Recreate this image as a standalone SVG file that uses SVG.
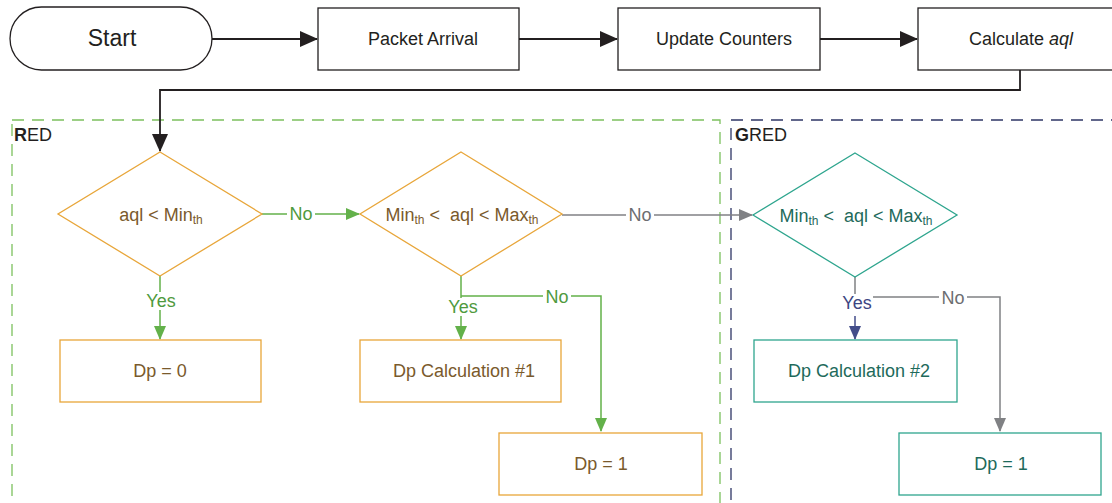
<svg xmlns="http://www.w3.org/2000/svg" width="1112" height="503" viewBox="0 0 1112 503">
<defs>
<style>
text{font-family:"Liberation Sans",Arial,sans-serif;text-anchor:middle;dominant-baseline:central}
.blk{fill:#fff;stroke:#231f20;stroke-width:1.3}
.red{fill:#fff;stroke:#e8a63a;stroke-width:1.3}
.gred{fill:#fff;stroke:#2ea58e;stroke-width:1.3}
.tb{fill:#231f20;font-size:18px}
.tr{fill:#7a5a2c;font-size:18px}
.tg{fill:#1e6a5b;font-size:18px}
.sub{font-size:12px}
.lg{fill:#4f9a3e;font-size:18px}
.lgr{fill:#6d6e71;font-size:18px}
.lnv{fill:#3d4682;font-size:18px}
.ck{fill:none;stroke:#231f20;stroke-width:1.8}
.cg{fill:none;stroke:#63b14a;stroke-width:1.5}
.cgr{fill:none;stroke:#808184;stroke-width:1.5}
.cnv{fill:none;stroke:#434d8a;stroke-width:1.5}
</style>
<marker id="ak" markerWidth="18" markerHeight="16" refX="17" refY="8" orient="auto" markerUnits="userSpaceOnUse" viewBox="0 0 18 16"><path d="M0,0L18,8L0,16z" fill="#231f20"/></marker>
<marker id="ag" markerWidth="14" markerHeight="14" refX="13" refY="7" orient="auto" markerUnits="userSpaceOnUse" viewBox="0 0 14 14"><path d="M0,1L14,7L0,13z" fill="#63b14a"/></marker>
<marker id="agr" markerWidth="14" markerHeight="14" refX="13" refY="7" orient="auto" markerUnits="userSpaceOnUse" viewBox="0 0 14 14"><path d="M0,1L14,7L0,13z" fill="#808184"/></marker>
<marker id="anv" markerWidth="14" markerHeight="14" refX="13" refY="7" orient="auto" markerUnits="userSpaceOnUse" viewBox="0 0 14 14"><path d="M0,1L14,7L0,13z" fill="#434d8a"/></marker>
</defs>
<rect width="1112" height="503" fill="#fff"/>

<g id="red-region">
<rect x="12" y="120" width="708" height="400" fill="none" stroke="#7cc05e" stroke-width="1.3" stroke-dasharray="12,8"/>
<text x="14" y="135" style="text-anchor:start;font-size:18px;fill:#231f20"><tspan font-weight="bold">R</tspan>ED</text>
</g>
<g id="gred-region">
<rect x="731" y="120" width="400" height="400" fill="none" stroke="#2e3666" stroke-width="1.3" stroke-dasharray="12,8"/>
<text x="735" y="135" style="text-anchor:start;font-size:18px;fill:#231f20"><tspan font-weight="bold">G</tspan>RED</text>
</g>

<g id="connectors">
<path class="ck" d="M212,39H317" marker-end="url(#ak)"/>
<path class="ck" d="M519,39H617" marker-end="url(#ak)"/>
<path class="ck" d="M820,39H917" marker-end="url(#ak)"/>
<path class="ck" d="M1020,70V90H160V151" marker-end="url(#ak)"/>
<path class="cg" d="M262,214H359" marker-end="url(#ag)"/>
<path class="cgr" d="M562,215H752" marker-end="url(#agr)"/>
<path class="cg" d="M160,276V339" marker-end="url(#ag)"/>
<path class="cg" d="M461,276V339"  marker-end="url(#ag)"/>
<path class="cg" d="M461,296H601V431" marker-end="url(#ag)"/>
<path class="cgr" d="M855,277V297H1000V431" marker-end="url(#agr)"/>
<path class="cnv" d="M855,316V339" marker-end="url(#anv)"/>
<rect x="287" y="205" width="28" height="18" fill="#fff"/>
<text class="lg" x="301" y="214">No</text>
<rect x="626" y="206" width="28" height="18" fill="#fff"/>
<text class="lgr" x="640" y="215">No</text>
<rect x="144" y="292" width="34" height="18" fill="#fff"/>
<text class="lg" x="161" y="301">Yes</text>
<rect x="446" y="298" width="34" height="18" fill="#fff"/>
<text class="lg" x="463" y="307">Yes</text>
<rect x="543" y="288" width="28" height="18" fill="#fff"/>
<text class="lg" x="557" y="297">No</text>
<rect x="839" y="294" width="34" height="18" fill="#fff"/>
<text class="lnv" x="857" y="303">Yes</text>
<rect x="939" y="289" width="28" height="18" fill="#fff"/>
<text class="lgr" x="953" y="298">No</text>
</g>

<g id="start">
<rect class="blk" x="10" y="7" width="202" height="63" rx="31.5"/>
<text class="tb" x="112" y="38" style="font-size:23px">Start</text>
</g>
<g id="packet-arrival">
<rect class="blk" x="318" y="8" width="201" height="62"/>
<text class="tb" x="423" y="39">Packet Arrival</text>
</g>
<g id="update-counters">
<rect class="blk" x="618" y="8" width="202" height="62"/>
<text class="tb" x="724" y="39">Update Counters</text>
</g>
<g id="calculate-aql">
<rect class="blk" x="918" y="8" width="202" height="62"/>
<text class="tb" x="1021" y="39">Calculate <tspan font-style="italic">aql</tspan></text>
</g>

<g id="decision-red-1">
<path class="red" d="M160,152L262,214L160,276L58,214Z"/>
<text class="tr" x="161" y="215">aql &lt; Min<tspan class="sub" dy="5">th</tspan></text>
</g>
<g id="decision-red-2">
<path class="red" d="M461,152L562,214L461,276L360,214Z"/>
<text class="tr" x="462" y="215">Min<tspan class="sub" dy="5">th</tspan><tspan dy="-5" xml:space="preserve"> &lt;  aql &lt; Max</tspan><tspan class="sub" dy="5">th</tspan></text>
</g>
<g id="decision-gred">
<path class="gred" d="M855,153L957,215L855,277L753,215Z"/>
<text class="tg" x="856" y="216">Min<tspan class="sub" dy="5">th</tspan><tspan dy="-5" xml:space="preserve"> &lt;  aql &lt; Max</tspan><tspan class="sub" dy="5">th</tspan></text>
</g>

<g id="dp0">
<rect class="red" x="60" y="340" width="201" height="62"/>
<text class="tr" x="160" y="371">Dp = 0</text>
</g>
<g id="dp-calc-1">
<rect class="red" x="360" y="340" width="201" height="62"/>
<text class="tr" x="464" y="371">Dp Calculation #1</text>
</g>
<g id="dp1-red">
<rect class="red" x="499" y="433" width="203" height="62"/>
<text class="tr" x="601" y="464">Dp = 1</text>
</g>
<g id="dp-calc-2">
<rect class="gred" x="754" y="340" width="203" height="62"/>
<text class="tg" x="859" y="371">Dp Calculation #2</text>
</g>
<g id="dp1-gred">
<rect class="gred" x="899" y="433" width="202" height="62"/>
<text class="tg" x="1001" y="464">Dp = 1</text>
</g>
</svg>
